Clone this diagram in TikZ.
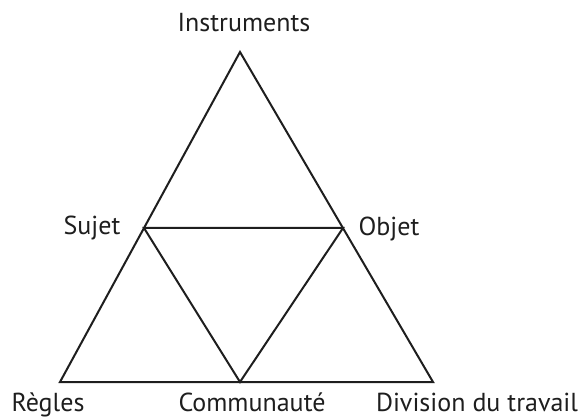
\documentclass[tikz,border=0pt]{standalone}
\usepackage{fontspec}
\setmainfont{PT Sans}
\definecolor{ink}{HTML}{1E1E1E}
\begin{document}
\begin{tikzpicture}[x=1pt,y=-1pt,
  edge/.style={draw=ink,line width=2pt,line join=miter,line cap=round},
  lab/.style={text=ink,font=\fontsize{26}{30}\selectfont,anchor=base,inner sep=0pt}]
\useasboundingbox (0,0) rectangle (580,419);
% vertices
\coordinate (A) at (240,52);
\coordinate (BL) at (60,382);
\coordinate (BR) at (433,382);
\coordinate (S) at (144,228);
\coordinate (O) at (343,228);
\coordinate (C) at (240,382);
% edges
\draw[edge] (A) -- (BR) -- (BL) -- cycle;
\draw[edge] (S) -- (O) -- (C) -- cycle;
% labels
\node[lab] (instr) at (244,32) {Instruments};
\node[lab] (sujet) at (92,235) {Sujet};
\node[lab] (objet) at (389,236) {Objet};
\node[lab] (regles) at (48,411) {Règles};
\node[lab] (comm) at (252,411) {Communauté};
\node[lab] (div) at (477,411) {Division du travail};
\end{tikzpicture}
\end{document}
